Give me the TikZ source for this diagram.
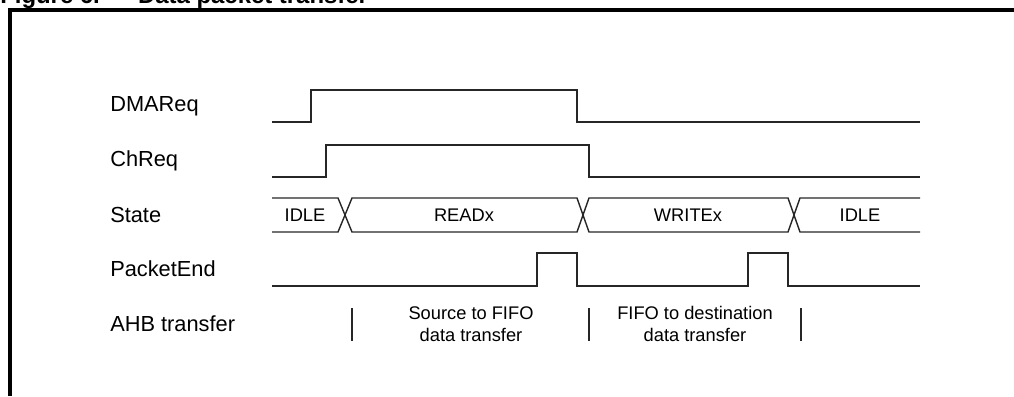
\documentclass[tikz,border=0pt]{standalone}
\usepackage{fontspec}
\setmainfont{Liberation Sans}
\usetikzlibrary{positioning}
\tikzstyle{signame} = [anchor=west, inner sep=0pt, font=\fontsize{15.5}{18}\selectfont]
\tikzstyle{statetxt} = [inner sep=0pt, font=\fontsize{13}{15}\selectfont]
\tikzstyle{busnote} = [inner sep=0pt, align=center, font=\fontsize{13}{15.5}\selectfont]
\tikzstyle{wave} = [line width=1pt, black!85]
\tikzstyle{frame} = [line width=2.2pt, black]

\begin{document}
\begin{tikzpicture}[x=0.025cm, y=-0.025cm]
\useasboundingbox (0,0) rectangle (1014,396);

% Title and frame
\node (title) [anchor=base west, inner sep=0pt, font=\fontsize{17}{20}\selectfont\bfseries] at (0,3.5) {Figure 6.\hspace{1.6em}Data packet transfer};
\draw [frame] (10,396) -- (10,10) -- (1014,10);

% Signal names
\node (dmareq) [signame] at (110,106) {DMAReq};
\node (chreq) [signame] at (110,161) {ChReq};
\node (state) [signame] at (110,215) {State};
\node (pktend) [signame] at (110,269) {PacketEnd};
\node (ahb) [signame] at (110,324) {AHB transfer};

% DMAReq
\draw [wave] (272,122) -- (311,122) -- (311,90) -- (577,90) -- (577,122) -- (920,122);

% ChReq
\draw [wave] (272,177) -- (326,177) -- (326,145) -- (589,145) -- (589,177) -- (920,177);

% State bus
\draw [wave] (272,198) -- (338,198) -- (352,232) -- (577,232) -- (589,198) -- (788,198) -- (800,232) -- (920,232);
\draw [wave] (272,232) -- (338,232) -- (352,198) -- (577,198) -- (589,232) -- (788,232) -- (800,198) -- (920,198);
\node (idle1) [statetxt] at (305,215) {IDLE};
\node (readx) [statetxt] at (464,215) {READx};
\node (writex) [statetxt] at (688,215) {WRITEx};
\node (idle2) [statetxt] at (860,215) {IDLE};

% PacketEnd
\draw [wave] (272,286) -- (537,286) -- (537,253) -- (577,253) -- (577,286) -- (748,286) -- (748,253) -- (788,253) -- (788,286) -- (920,286);

% AHB transfer
\draw [wave] (352,308) -- (352,341);
\draw [wave] (589,308) -- (589,341);
\draw [wave] (801,308) -- (801,341);
\node (src) [busnote] at (471,324) {Source to FIFO\\data transfer};
\node (dst) [busnote] at (695,324) {FIFO to destination\\data transfer};

\end{tikzpicture}
\end{document}
